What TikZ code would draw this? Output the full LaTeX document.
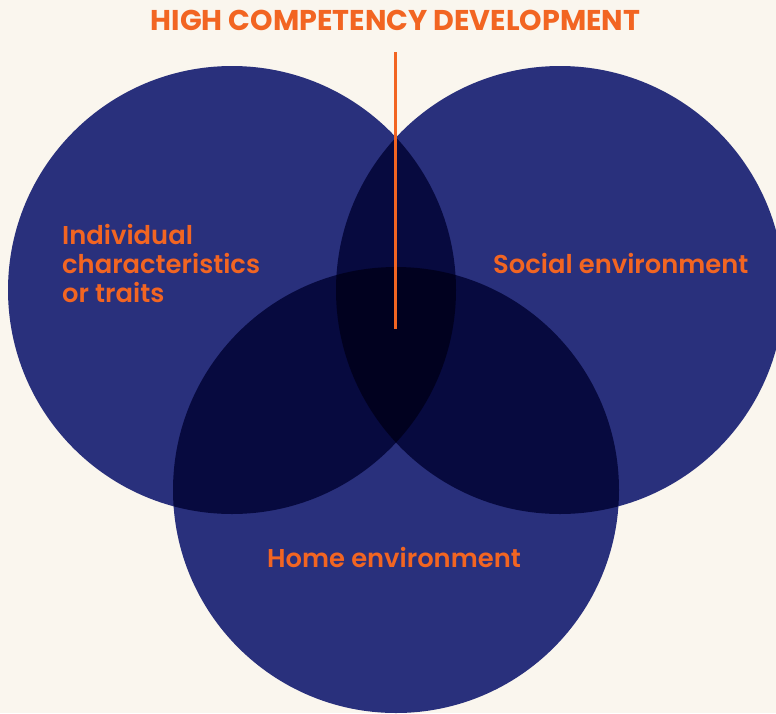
\documentclass[tikz,border=0pt]{standalone}
\usepackage{fontspec}
\setmainfont{Poppins}[UprightFont=* SemiBold, BoldFont=* Bold]
\definecolor{bg}{HTML}{FAF6EE}
\definecolor{one}{HTML}{29307C}
\definecolor{two}{HTML}{070A3F}
\definecolor{three}{HTML}{01011F}
\definecolor{orng}{HTML}{F26522}
\tikzset{
  lbl/.style={text=orng, font=\fontsize{25.8}{29}\selectfont, anchor=base west, inner sep=0pt, align=left},
}
\begin{document}
\begin{tikzpicture}[x=1pt,y=-1pt]
\fill[bg] (0,0) rectangle (776,713);
\useasboundingbox (0,0) rectangle (776,713);
\def\cL{(232,290) circle (224)}
\def\cR{(560,290) circle (224)}
\def\cB{(396,490) circle (223)}
\begin{scope}
  \clip (0,0) rectangle (776,713);
  \fill[one] \cL; \fill[one] \cR; \fill[one] \cB;
  \begin{scope}\clip \cL; \fill[two] \cR; \end{scope}
  \begin{scope}\clip \cL; \fill[two] \cB; \end{scope}
  \begin{scope}\clip \cR; \fill[two] \cB; \end{scope}
  \begin{scope}\clip \cL; \clip \cR; \fill[three] \cB; \end{scope}
\end{scope}
\node[text=orng, font=\fontsize{28.6}{29}\selectfont\bfseries, anchor=base, inner sep=0pt] (title) at (395.5,30) {HIGH COMPETENCY DEVELOPMENT};
\coordinate (ltop) at (395.5,52);
\coordinate (lbot) at (395.5,329);
\draw[orng, line width=2.6pt] (ltop) -- (lbot);
\node[lbl] (indiv) at (62,302) {Individual\\characteristics\\or traits};
\node[lbl] (social) at (493,273) {Social environment};
\node[lbl] (home) at (267,567) {Home environment};
\end{tikzpicture}
\end{document}
